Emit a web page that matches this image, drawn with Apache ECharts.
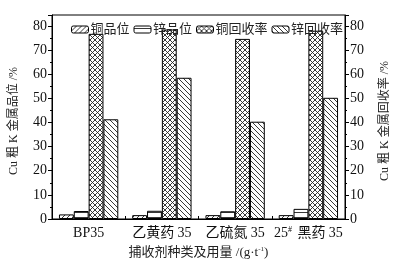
<!DOCTYPE html>
<html><head><meta charset="utf-8">
<script src="https://cdn.jsdelivr.net/npm/echarts@6/dist/echarts.min.js"></script>
<style>html,body{margin:0;padding:0;background:#fff}#c{width:407px;height:264px}</style>
</head><body><div id="c"></div>
<script>
const categories = ['BP35', '乙黄药 35', '乙硫氮 35', '25# 黑药 35'];
const seriesNames = ['铜品位', '锌品位', '铜回收率', '锌回收率'];
const cuGrade = [1.9, 1.6, 1.6, 1.6];
const znGrade = [3.3, 3.4, 3.2, 4.2];
const cuRecovery = [76.7, 78.5, 74.6, 78.0];
const znRecovery = [41.3, 58.5, 40.3, 50.2];
const yTicks = [0, 10, 20, 30, 40, 50, 60, 70, 80];

function pattern(kind) {
  const s = 5;
  const c = document.createElement('canvas');
  c.width = s; c.height = s;
  const g = c.getContext('2d');
  g.fillStyle = '#fff'; g.fillRect(0, 0, s, s);
  g.strokeStyle = '#222'; g.lineWidth = 0.9;
  g.beginPath();
  if (kind === 'fwd' || kind === 'cross') {
    g.moveTo(0, s); g.lineTo(s, 0);
    g.moveTo(-1, 1); g.lineTo(1, -1);
    g.moveTo(s - 1, s + 1); g.lineTo(s + 1, s - 1);
  }
  if (kind === 'back' || kind === 'cross') {
    g.moveTo(0, 0); g.lineTo(s, s);
    g.moveTo(-1, s - 1); g.lineTo(1, s + 1);
    g.moveTo(s - 1, -1); g.lineTo(s + 1, 1);
  }
  if (kind === 'horiz') {
    g.moveTo(0, 2.5); g.lineTo(s, 2.5);
  }
  g.stroke();
  return { image: c, repeat: 'repeat' };
}
const fills = [pattern('fwd'), pattern('horiz'), pattern('cross'), pattern('back')];
const values = [cuGrade, znGrade, cuRecovery, znRecovery];

const FONT = '"Liberation Serif", "Noto Sans CJK SC", serif';
const chart = echarts.init(document.getElementById('c'), null, { renderer: 'canvas' });
const yAxisBase = (pos) => ({
  type: 'value', position: pos, min: 0, max: 84.5, interval: 10,
  axisLine: { show: true, lineStyle: { color: '#000', width: 1 } },
  axisTick: { show: true, inside: false, length: 4, lineStyle: { color: '#000' } },
  minorTick: { show: true, splitNumber: 2, length: 2, lineStyle: { color: '#000' } },
  splitLine: { show: false },
  axisLabel: {
    show: true, color: '#111', fontSize: 14, fontFamily: FONT, margin: 5, showMaxLabel: false,
    formatter: v => (yTicks.indexOf(v) >= 0 ? String(v) : '')
  },
  nameLocation: 'middle', nameRotate: 90,
  nameTextStyle: { color: '#222', fontSize: 12, fontFamily: FONT, padding: [0, 8, 0, 0] }
});
const yl = yAxisBase('left'); yl.name = 'Cu 粗 K 金属品位 /%'; yl.nameGap = 32;
const yr = yAxisBase('right'); yr.name = 'Cu 粗 K 金属回收率 /%'; yr.nameGap = 34;

chart.setOption({
  animation: false,
  backgroundColor: '#fff',
  grid: { left: 48, right: 62, top: 15, bottom: 42, show: true, borderColor: '#000', borderWidth: 1, backgroundColor: 'transparent' },
  legend: {
    top: 18, left: 66, itemWidth: 17, itemHeight: 7, itemGap: 4,
    data: seriesNames,
    textStyle: { fontSize: 13, color: '#222', fontFamily: FONT, padding: [0, 0, 0, -3] },
    itemStyle: { borderColor: '#000', borderWidth: 1 }
  },
  xAxis: {
    type: 'category', data: categories,
    axisLine: { show: true, lineStyle: { color: '#000' } },
    axisTick: { show: true, inside: true, length: 3, alignWithLabel: false, lineStyle: { color: '#000' } },
    axisLabel: {
      interval: 0,
      color: '#111', fontSize: 14, fontFamily: FONT, margin: 7,
      formatter: v => v.replace('#', '{sup|#}'),
      rich: { sup: { fontSize: 8, verticalAlign: 'top', padding: [0, 2, 6, 0], fontFamily: FONT, color: '#111' } }
    },
    name: '捕收剂种类及用量 /(g·t{sup|-1})',
    nameLocation: 'middle', nameGap: 27,
    nameTextStyle: {
      fontSize: 13, color: '#222', fontFamily: FONT,
      rich: { sup: { fontSize: 7, padding: [0, 0, 6, 0], fontFamily: FONT, color: '#222' } }
    }
  },
  yAxis: [yl, yr],
  series: seriesNames.map((n, i) => ({
    name: n, type: 'bar', data: values[i], yAxisIndex: 0,
    barGap: '0%', barCategoryGap: '19%',
    itemStyle: { color: fills[i], borderColor: '#000', borderWidth: 1 }
  }))
});
</script></body></html>
